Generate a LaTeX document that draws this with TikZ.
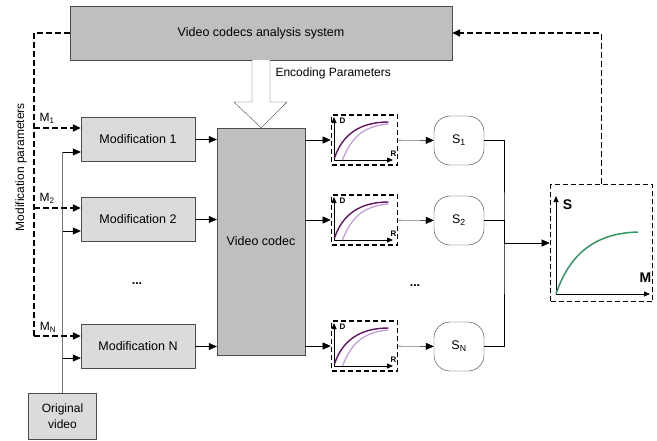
\documentclass[tikz,border=0pt]{standalone}
\usepackage{fontspec}
\setmainfont{Liberation Sans}
\usetikzlibrary{arrows.meta}
\definecolor{rddark}{RGB}{100,20,100}
\definecolor{rdlight}{RGB}{200,160,220}
\definecolor{smgreen}{RGB}{50,150,100}
\begin{document}
\begin{tikzpicture}[x=1pt,y=-1pt,font=\fontsize{12.5}{15}\selectfont,
    blk/.style={draw=black!70,fill=black!25},
    modbox/.style={draw=black!70,fill=black!14,minimum width=114pt,minimum height=44pt},
    rdbox/.style={draw,dash pattern=on 5pt off 3pt,line width=1.6pt,minimum width=66pt,minimum height=50pt},
    sbox/.style={draw=black!80,rounded corners=16pt,minimum width=50pt,minimum height=49pt},
    arr/.style={-{Triangle[length=8pt,width=7pt]}},
    fb/.style={dash pattern=on 6pt off 3pt,line width=1.6pt},
    ax/.style={-{Triangle[length=6pt,width=5pt]},line width=0.8pt},
    axlbl/.style={font=\bfseries\fontsize{8}{9}\selectfont,inner sep=0pt}]
  \useasboundingbox (0,0) rectangle (657,440);
  \node[blk,minimum width=382pt,minimum height=54pt] (sys) at (261,33) {Video codecs analysis system};
  \node[blk,minimum width=88pt,minimum height=227pt] (codec) at (261,241.5) {Video codec};
  \node[modbox] (m1) at (138,139.5) {Modification 1};
  \node[modbox] (m2) at (138,219.5) {Modification 2};
  \node[modbox] (mN) at (138,346.5) {Modification N};
  \node[modbox,minimum width=68pt,minimum height=46pt,align=center,font=\fontsize{12}{15.5}\selectfont] (orig) at (62.5,416) {Original\\video};
  \node at (137,284) {\textbf{...}};
  \node at (415,286) {\textbf{...}};
  \node[rotate=90,font=\fontsize{12}{14}\selectfont] at (21,167) {Modification parameters};
  \node[anchor=west,font=\fontsize{12}{14}\selectfont] (enc) at (272,73) {Encoding Parameters};
  \node[font=\fontsize{12}{14}\selectfont] at (47,118) {M\textsubscript{1}};
  \node[font=\fontsize{12}{14}\selectfont] at (47,198) {M\textsubscript{2}};
  \node[font=\fontsize{12}{14}\selectfont] at (48,327) {M\textsubscript{N}};
  \draw[draw=black!70,fill=white] (252,60) -- (252,102) -- (234,102) -- (codec.north) -- (287,102) -- (270,102) -- (270,60);
  \draw[fb] (sys.west) -| (34,336);
  \draw[black!55,line width=1.8pt] (orig.north) -- (62.5,152);
  \foreach \n/\a/\b in {m1/128/152,m2/208/231,mN/336/358} {
    \draw[fb,arr] (34,\a) -- (\n.west |- 34,\a);
    \draw[arr] (62.5,\b) -- (\n.west |- 0,\b);
    \draw[arr] (\n) -- (\n -| codec.west);
  }
  \foreach \i/\y in {1/140,2/220,N/346} {
    \node[rdbox] (p\i) at (364.5,\y) {};
    \node[sbox] (s\i) at (459,\y+0.5) {S\textsubscript{\i}};
    \begin{scope}[shift={(364.5,\y)}]
      \draw[ax] (-30.5,20) -- (-30.5,-23);
      \draw[ax] (-30.5,20) -- (28.5,20);
      \draw[rdlight,line width=1.3pt] (-22,20) .. controls (-12,-6) and (2,-14) .. (24,-16);
      \draw[rddark,line width=1.4pt] (-30,18) .. controls (-22,-6) and (-4,-18) .. (24,-18);
      \node[axlbl] at (-22,-19) {D};
      \node[axlbl] at (29,14) {R};
    \end{scope}
    \draw[arr] (codec.east |- p\i) -- (p\i);
    \draw[arr] (p\i) -- (s\i);
  }
  \node[rdbox,minimum width=102pt,minimum height=117pt] (sm) at (601.5,243) {};
  \begin{scope}[shift={(601.5,243)}]
    \draw[ax] (-45.5,51) -- (-45.5,-47);
    \draw[ax] (-45.5,51) -- (48.5,51);
    \draw[smgreen,line width=1.5pt] (-45.5,51) .. controls (-30,5) and (0,-10) .. (36.5,-11);
    \node[axlbl,font=\bfseries\fontsize{14}{16}\selectfont] at (-34,-38) {S};
    \node[axlbl,font=\bfseries\fontsize{14}{16}\selectfont] at (44,35) {M};
  \end{scope}
  \coordinate (jt) at (504,243);
  \draw (s1.east) -| (jt) |- (sN.east);
  \draw (s2.east) -| (jt);
  \draw[arr] (jt) -- (sm);
  \draw[fb,arr] (sm.north) |- (sys.east);
\end{tikzpicture}
\end{document}
